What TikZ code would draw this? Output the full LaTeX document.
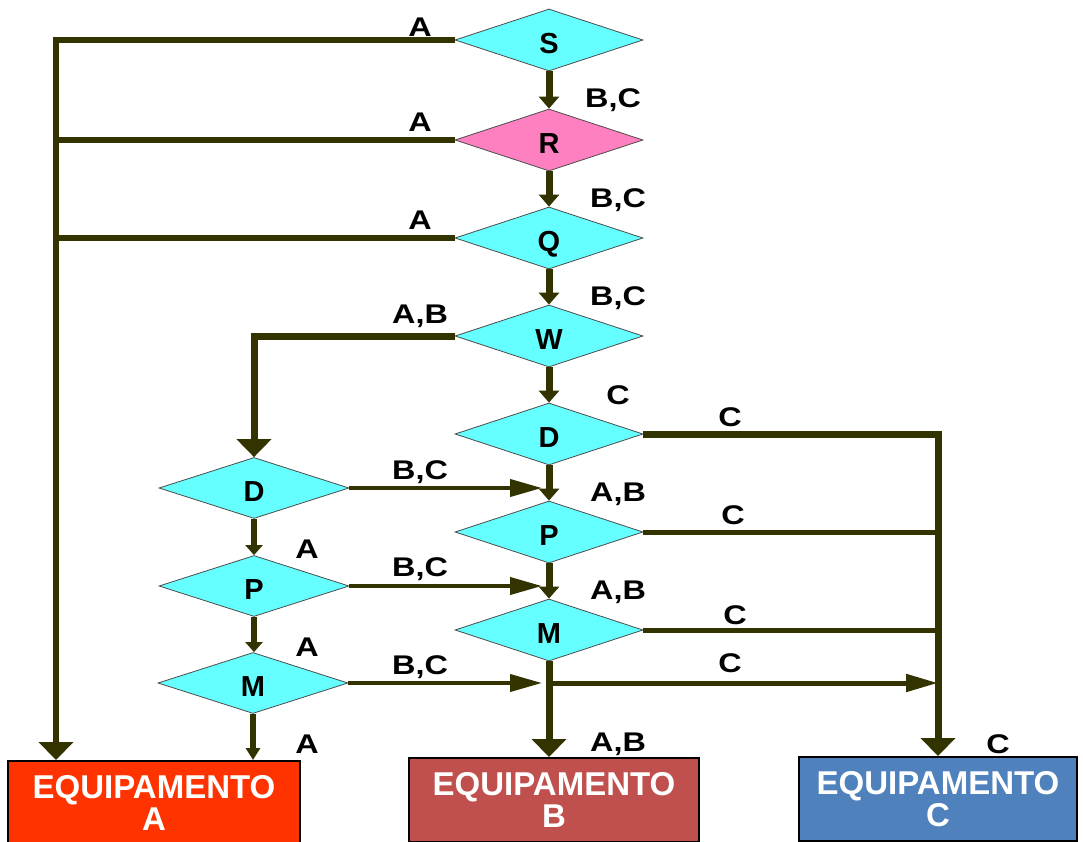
\documentclass[tikz,border=0pt]{standalone}
\usepackage{fontspec}
\setmainfont{Liberation Sans}
\usetikzlibrary{arrows.meta,shapes.geometric,calc}
\definecolor{ln}{RGB}{51,51,0}
\definecolor{cy}{RGB}{102,255,255}
\definecolor{pk}{RGB}{255,128,192}
\definecolor{eqa}{RGB}{255,51,0}
\definecolor{eqb}{RGB}{192,80,77}
\definecolor{eqc}{RGB}{79,129,189}
\begin{document}
\begin{tikzpicture}[x=1pt,y=-1pt,
  dia/.style={diamond, draw=black!70, line width=0.8pt, fill=cy, minimum width=188pt, minimum height=62pt, inner sep=0pt, text height=28pt, text depth=1pt, font=\fontsize{29}{29}\selectfont\bfseries},
  dial/.style={dia, minimum width=190pt, minimum height=61pt},
  lbl/.style={font=\fontsize{27}{27}\selectfont\bfseries, inner sep=0pt, xscale=1.2},
  eq/.style={draw=black, line width=2pt, minimum height=84pt, text=white, align=center, font=\fontsize{33}{32}\selectfont\bfseries, inner sep=0pt},
  fl/.style={draw=ln, line width=6pt},
  bigtip/.style={-{Triangle[width=34pt,length=18pt]}},
  midtip/.style={-{Triangle[width=17pt,length=32pt]}},
  smtip/.style={-{Triangle[width=20pt,length=12pt]}},
  ltip/.style={-{Triangle[width=17pt,length=10pt]}}
]
\fill[white] (0,0) rectangle (1083,842);
\useasboundingbox (0,0) rectangle (1083,842);

% main column
\node[dia] (S) at (549,40) {S};
\node[dia, fill=pk] (R) at (549,140) {R};
\node[dia] (Q) at (549,238) {Q};
\node[dia] (W) at (549,336) {W};
\node[dia] (Dr) at (549,434) {D};
\node[dia] (Pr) at (549,532) {P};
\node[dia] (Mr) at (549,630) {M};
% left column
\node[dial] (Dl) at (254,488) {D};
\node[dial] (Pl) at (254,586) {P};
\node[dial] (Ml) at (253,683) {M};
% boxes
\node[eq, fill=eqa, minimum width=292pt] (eqA) at (154,803) {EQUIPAMENTO\\A};
\node[eq, fill=eqb, minimum width=290pt] (eqB) at (554,800) {EQUIPAMENTO\\B};
\node[eq, fill=eqc, minimum width=278pt] (eqC) at (938,799) {EQUIPAMENTO\\C};
\coordinate (aTop) at ($(eqA.north west)+(49,0)$);

% left bus to A
\draw[fl, bigtip] (S.west) -| (aTop);
\draw[fl] (R.west) -- (R.west -| aTop);
\draw[fl] (Q.west) -- (Q.west -| aTop);
\draw[fl, line width=7pt, bigtip] (W.west) -| (Dl.north);

% main column arrows
\foreach \a/\b in {S/R,R/Q,Q/W,W/Dr,Dr/Pr,Pr/Mr}
  \draw[fl, line width=7pt, smtip] (\a.south) -- (\b.north);
\draw[fl, line width=7pt, bigtip] (Mr.south) -- (Mr.south |- eqB.north);

% left column arrows
\draw[fl, ltip] (Dl.south) -- (Dl.south |- Pl.north);
\draw[fl, ltip] (Pl.south) -- (Pl.south |- Ml.north);
\draw[fl, -{Triangle[width=14pt,length=12pt]}] (Ml.south) -- (Ml.south |- eqA.north);

% B,C arrows
\draw[fl, line width=4pt, midtip] (Dl.east) -- ($(Dl.east -| Pr.north)+(-7,0)$);
\draw[fl, line width=4pt, midtip] (Pl.east) -- ($(Pl.east -| Mr.north)+(-7,0)$);
\draw[fl, line width=4pt, midtip] (Ml.east) -- ($(Ml.east -| Mr.south)+(-7,0)$);

% C bus
\draw[fl, line width=7pt, bigtip] (Dr.east) -| (eqC.north);
\draw[fl, line width=5pt] (Pr.east) -- (Pr.east -| eqC.north);
\draw[fl, line width=5pt] (Mr.east) -- (Mr.east -| eqC.north);
\draw[fl, line width=5pt, midtip] (Ml.east -| Mr.south) -- (Ml.east -| eqC.north);

% labels
\node[lbl] (a1) at (420,27) {A};
\node[lbl] (b1) at (613,100) {B,C};
\node[lbl] (a2) at (420,122) {A};
\node[lbl] (b2) at (618,200) {B,C};
\node[lbl] (a3) at (420,220) {A};
\node[lbl] (b3) at (618,298) {B,C};
\node[lbl] (a4) at (420,316) {A,B};
\node[lbl] (c1) at (618,395) {C};
\node[lbl] (c2) at (730,417) {C};
\node[lbl] (b4) at (420,472) {B,C};
\node[lbl] (a5) at (618,494) {A,B};
\node[lbl] (c3) at (733,515) {C};
\node[lbl] (a6) at (307,549) {A};
\node[lbl] (b5) at (420,569) {B,C};
\node[lbl] (a7) at (618,592) {A,B};
\node[lbl] (c4) at (735,615) {C};
\node[lbl] (a8) at (307,647) {A};
\node[lbl] (b6) at (420,667) {B,C};
\node[lbl] (c5) at (730,663) {C};
\node[lbl] (a9) at (307,744) {A};
\node[lbl] (a10) at (618,744) {A,B};
\node[lbl] (c6) at (998,744) {C};
\end{tikzpicture}
\end{document}
